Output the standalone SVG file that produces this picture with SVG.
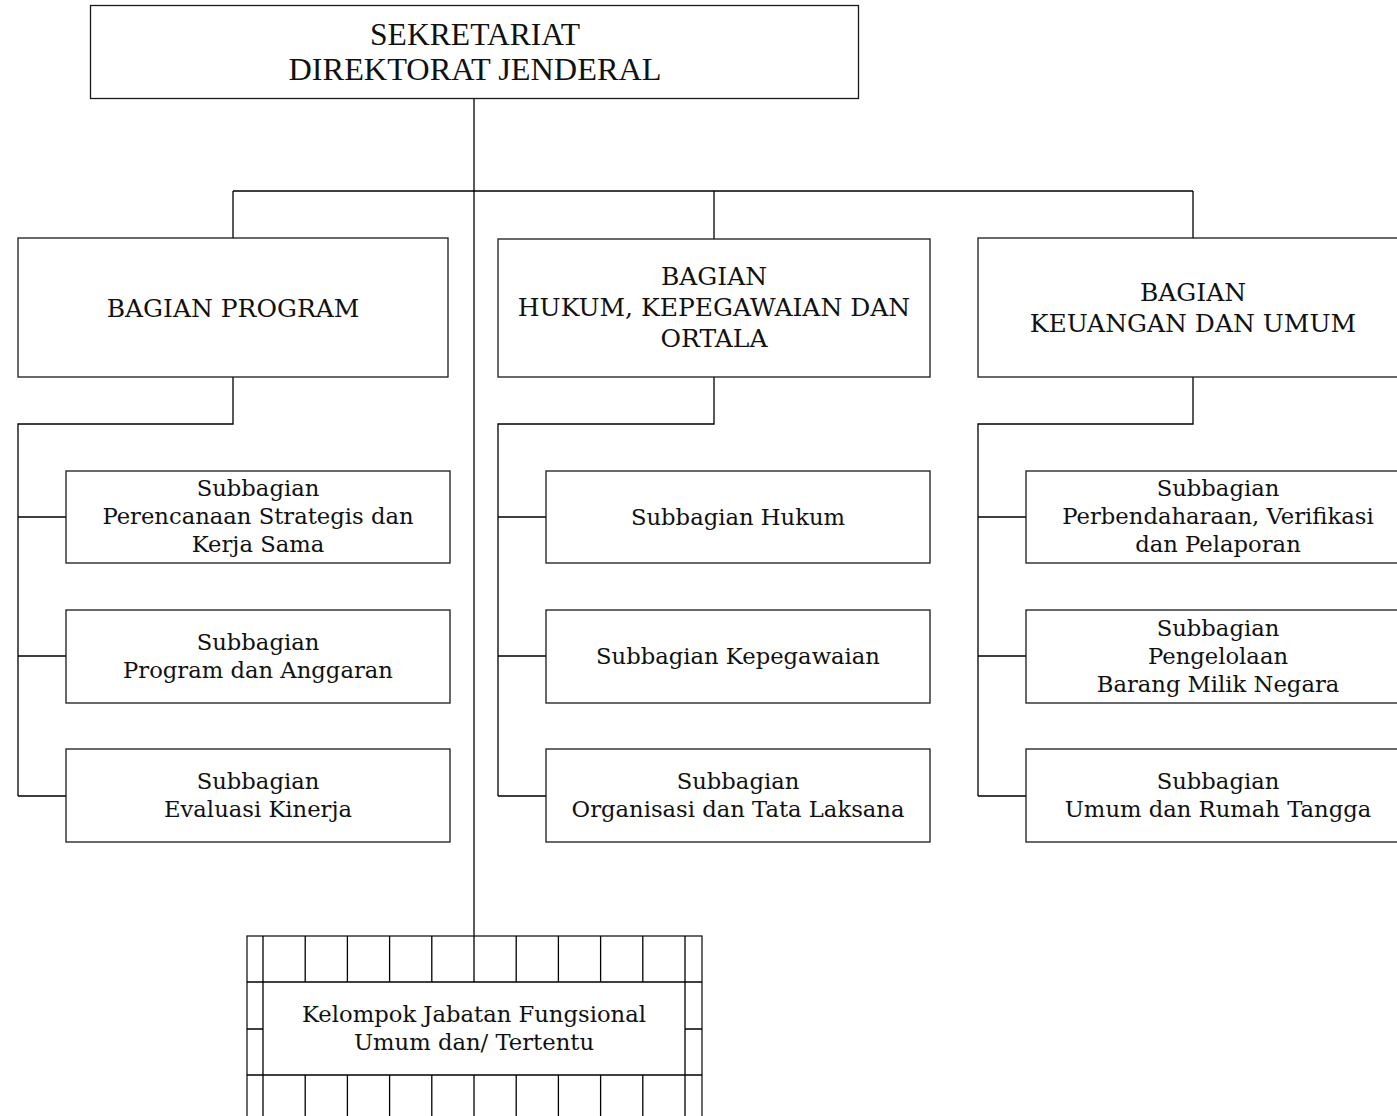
<svg xmlns="http://www.w3.org/2000/svg" width="1397" height="1116" viewBox="0 0 1397 1116">
  <style>
    .box { fill: #fff; stroke: #1a1a1a; stroke-width: 1.3; }
    .ln { fill: none; stroke: #000; stroke-width: 1.3; }
    .top { font-family: "Liberation Serif", "Times New Roman", serif; font-size: 31px; fill: #111; text-anchor: middle; }
    .cap { font-family: "DejaVu Serif", "Liberation Serif", serif; font-size: 25px; fill: #111; text-anchor: middle; }
    .sub { font-family: "DejaVu Serif", "Liberation Serif", serif; font-size: 22.7px; fill: #111; text-anchor: middle; }
  </style>

  <!-- connectors -->
  <g id="connectors">
    <path class="ln" d="M474,98 V936"/>
    <path class="ln" d="M233,191 H1193 M233,191 V238 M714,191 V239 M1193,191 V238"/>
    <!-- Bagian Program branch -->
    <path class="ln" d="M233,377 V424 H18 V796 M18,517 H66 M18,656 H66 M18,796 H66"/>
    <!-- Bagian Hukum branch -->
    <path class="ln" d="M714,377 V424 H498 V796 M498,517 H546 M498,656 H546 M498,796 H546"/>
    <!-- Bagian Keuangan branch -->
    <path class="ln" d="M1193,377 V424 H978 V796 M978,517 H1026 M978,656 H1026 M978,796 H1026"/>
  </g>

  <g id="sekretariat">
    <rect class="box" x="90.5" y="5.5" width="768" height="93"/>
    <text class="top" x="475" y="45" textLength="210" lengthAdjust="spacingAndGlyphs">SEKRETARIAT</text>
    <text class="top" x="475" y="80" textLength="373" lengthAdjust="spacingAndGlyphs">DIREKTORAT JENDERAL</text>
  </g>

  <g id="bagian-program">
    <rect class="box" x="18" y="238" width="430" height="139"/>
    <text class="cap" x="233" y="317">BAGIAN PROGRAM</text>
  </g>

  <g id="bagian-hukum">
    <rect class="box" x="498" y="239" width="432" height="138"/>
    <text class="cap" x="714" y="285">BAGIAN</text>
    <text class="cap" x="714" y="316">HUKUM, KEPEGAWAIAN DAN</text>
    <text class="cap" x="714" y="347">ORTALA</text>
  </g>

  <g id="bagian-keuangan">
    <rect class="box" x="978" y="238" width="432" height="139"/>
    <text class="cap" x="1193" y="301">BAGIAN</text>
    <text class="cap" x="1193" y="332">KEUANGAN DAN UMUM</text>
  </g>

  <!-- Subbagian under Bagian Program -->
  <g id="sub-perencanaan">
    <rect class="box" x="66" y="471" width="384" height="92"/>
    <text class="sub" x="258" y="496">Subbagian</text>
    <text class="sub" x="258" y="524">Perencanaan Strategis dan</text>
    <text class="sub" x="258" y="552">Kerja Sama</text>
  </g>
  <g id="sub-program-anggaran">
    <rect class="box" x="66" y="610" width="384" height="93"/>
    <text class="sub" x="258" y="650">Subbagian</text>
    <text class="sub" x="258" y="678">Program dan Anggaran</text>
  </g>
  <g id="sub-evaluasi">
    <rect class="box" x="66" y="749" width="384" height="93"/>
    <text class="sub" x="258" y="789">Subbagian</text>
    <text class="sub" x="258" y="817">Evaluasi Kinerja</text>
  </g>

  <!-- Subbagian under Bagian Hukum -->
  <g id="sub-hukum">
    <rect class="box" x="546" y="471" width="384" height="92"/>
    <text class="sub" x="738" y="525">Subbagian Hukum</text>
  </g>
  <g id="sub-kepegawaian">
    <rect class="box" x="546" y="610" width="384" height="93"/>
    <text class="sub" x="738" y="664">Subbagian Kepegawaian</text>
  </g>
  <g id="sub-ortala">
    <rect class="box" x="546" y="749" width="384" height="93"/>
    <text class="sub" x="738" y="789">Subbagian</text>
    <text class="sub" x="738" y="817">Organisasi dan Tata Laksana</text>
  </g>

  <!-- Subbagian under Bagian Keuangan -->
  <g id="sub-perbendaharaan">
    <rect class="box" x="1026" y="471" width="384" height="92"/>
    <text class="sub" x="1218" y="496">Subbagian</text>
    <text class="sub" x="1218" y="524">Perbendaharaan, Verifikasi</text>
    <text class="sub" x="1218" y="552">dan Pelaporan</text>
  </g>
  <g id="sub-bmn">
    <rect class="box" x="1026" y="610" width="384" height="93"/>
    <text class="sub" x="1218" y="636">Subbagian</text>
    <text class="sub" x="1218" y="664">Pengelolaan</text>
    <text class="sub" x="1218" y="692">Barang Milik Negara</text>
  </g>
  <g id="sub-umum">
    <rect class="box" x="1026" y="749" width="384" height="93"/>
    <text class="sub" x="1218" y="789">Subbagian</text>
    <text class="sub" x="1218" y="817">Umum dan Rumah Tangga</text>
  </g>

  <!-- functional group: framed box with cell grid around it -->
  <g id="kelompok-fungsional">
    <rect class="box" x="247" y="936" width="455" height="200"/>
    <path class="ln" d="M247,982 H702 M247,1075 H702 M263,936 V1136 M685,936 V1136 M247,1029 H263 M685,1029 H702"/>
    <path class="ln" d="M305.2,936 V982 M347.4,936 V982 M389.6,936 V982 M431.8,936 V982 M474,936 V982 M516.2,936 V982 M558.4,936 V982 M600.6,936 V982 M642.8,936 V982"/>
    <path class="ln" d="M305.2,1075 V1136 M347.4,1075 V1136 M389.6,1075 V1136 M431.8,1075 V1136 M474,1075 V1136 M516.2,1075 V1136 M558.4,1075 V1136 M600.6,1075 V1136 M642.8,1075 V1136"/>
    <text class="sub" x="474" y="1022">Kelompok Jabatan Fungsional</text>
    <text class="sub" x="474" y="1050">Umum dan/ Tertentu</text>
  </g>
</svg>
